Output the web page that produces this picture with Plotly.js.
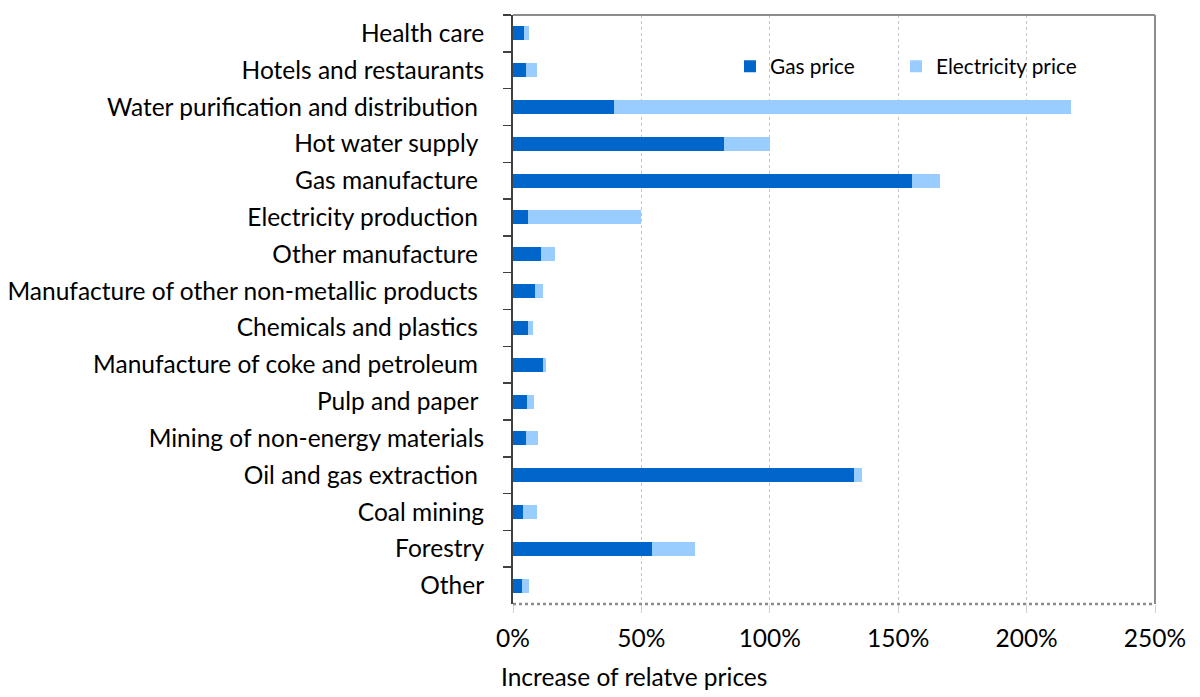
<!DOCTYPE html>
<html>
<head>
<meta charset="utf-8">
<script src="https://cdn.plot.ly/plotly-3.0.1.min.js"></script>
<style>html,body{margin:0;padding:0;background:#fff;}#chart{width:1200px;height:697px;}</style>
</head>
<body>
<div id="chart"></div>
<script>
const categories = [
  "Health care",
  "Hotels and restaurants",
  "Water purification and distribution\u00A0",
  "Hot water supply\u00A0",
  "Gas manufacture\u00A0",
  "Electricity production\u00A0",
  "Other manufacture\u00A0",
  "Manufacture of other non-metallic products\u00A0",
  "Chemicals and plastics\u00A0",
  "Manufacture of coke and petroleum\u00A0",
  "Pulp and paper\u00A0",
  "Mining of non-energy materials",
  "Oil and gas extraction\u00A0",
  "Coal mining",
  "Forestry",
  "Other"
];
const gasPrice = [4.3, 5.1, 39.5, 82.3, 155.5, 5.8, 10.8, 8.4, 6.0, 11.8, 5.3, 4.9, 132.9, 3.9, 54.3, 3.6];
const electricityPrice = [1.9, 4.1, 177.6, 17.7, 10.9, 44.2, 5.4, 3.3, 1.7, 0.9, 2.9, 4.8, 3.1, 5.6, 16.4, 2.6];
const xTickVals = [0, 50, 100, 150, 200, 250];
const xTickText = ["0%", "50%", "100%", "150%", "200%", "250%"];

const FONT = "Lato, 'Open Sans', sans-serif";

const traces = [
  {type: "bar", orientation: "h", name: "Gas price", y: categories, x: gasPrice.map(v => v / 100),
   marker: {color: "#0066CC"}, hoverinfo: "skip", legend: "legend"},
  {type: "bar", orientation: "h", name: "Electricity price", y: categories, x: electricityPrice.map(v => v / 100),
   marker: {color: "#99CCFF"}, hoverinfo: "skip", legend: "legend2"}
];

const legendFont = {family: FONT, size: 20.8, color: "#000"};

const layout = {
  width: 1200, height: 697,
  margin: {l: 513, r: 45, t: 15, b: 93},
  paper_bgcolor: "#fff", plot_bgcolor: "#fff",
  barmode: "stack",
  bargap: 0.62,
  font: {family: FONT, size: 24.5, color: "#000"},
  showlegend: true,
  legend: {orientation: "h", x: 0.338, y: 0.947, xanchor: "left", yanchor: "top",
           font: legendFont, bgcolor: "rgba(0,0,0,0)", itemwidth: 30},
  legend2: {orientation: "h", x: 0.5966, y: 0.947, xanchor: "left", yanchor: "top",
           font: legendFont, bgcolor: "rgba(0,0,0,0)", itemwidth: 30},
  xaxis: {
    range: [0, 2.5], tickvals: xTickVals.map(v => v / 100), ticktext: xTickText,
    showgrid: true, gridcolor: "#c4c4c4", gridwidth: 1, griddash: "3px,3px",
    zeroline: false, showline: false,
    ticks: "outside", ticklen: 8, tickcolor: "#d0d0d0", tickwidth: 1,
    ticklabelstandoff: 5,
    tickfont: {family: FONT, size: 24.5, color: "#000"},
    fixedrange: true
  },
  yaxis: {
    autorange: "reversed", type: "category",
    showline: true, linecolor: "#404040", linewidth: 2,
    ticks: "outside", tickson: "boundaries", ticklen: 8, tickcolor: "#404040", tickwidth: 1.5,
    ticklabelstandoff: 22,
    showgrid: false, zeroline: false,
    tickfont: {family: FONT, size: 24.5, color: "#000"},
    fixedrange: true
  },
  shapes: [
    {type: "line", xref: "paper", yref: "paper", x0: 0, x1: 1, y0: 1, y1: 1, line: {color: "#8c8c8c", width: 2}},
    {type: "line", xref: "paper", yref: "paper", x0: 1, x1: 1, y0: 0, y1: 1, line: {color: "#8c8c8c", width: 2}},
    {type: "line", xref: "paper", yref: "paper", x0: 0, x1: 1, y0: 0, y1: 0, line: {color: "#8c8c8c", width: 2.5, dash: "dot"}}
  ],
  annotations: [
    {xref: "paper", yref: "paper", x: 0, y: 0, xanchor: "left", yanchor: "top", xshift: -14, yshift: -56,
     text: "Increase of relatve prices", showarrow: false, font: {family: FONT, size: 24.5, color: "#000"}}
  ]
};

Plotly.newPlot("chart", traces, layout, {displayModeBar: false, staticPlot: true});
</script>
</body>
</html>
